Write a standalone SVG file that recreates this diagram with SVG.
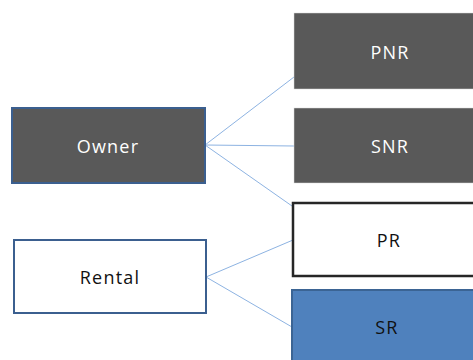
<svg xmlns="http://www.w3.org/2000/svg" width="473" height="360" viewBox="0 0 473 360">
  <style>
    .lbl { font-family: "Open Sans", "Liberation Sans", sans-serif; font-size: 18px; text-anchor: middle; dominant-baseline: central; letter-spacing: 1.2px; }
    .light { fill: #ffffff; }
    .dark { fill: #111111; }
    .conn { stroke: #8db3e2; stroke-width: 1; fill: none; }
  </style>
  <rect width="473" height="360" fill="#ffffff"/>
  <g id="connectors">
    <line class="conn" x1="205" y1="145" x2="294" y2="77"/>
    <line class="conn" x1="205" y1="145" x2="294" y2="146"/>
    <line class="conn" x1="205" y1="145" x2="292" y2="206"/>
    <line class="conn" x1="206" y1="277" x2="293" y2="240"/>
    <line class="conn" x1="206" y1="277" x2="292" y2="327"/>
  </g>
  <g id="owner">
    <rect x="12" y="108" width="193" height="75" fill="#595959" stroke="#3b5f8f" stroke-width="2"/>
    <text class="lbl light" x="108" y="146">Owner</text>
  </g>
  <g id="rental">
    <rect x="14" y="240" width="192" height="73" fill="#ffffff" stroke="#3b5f8f" stroke-width="2"/>
    <text class="lbl dark" x="110" y="277">Rental</text>
  </g>
  <g id="pnr">
    <rect x="294" y="13" width="185" height="76" fill="#595959" stroke="#d9d9d9" stroke-width="0.5"/>
    <text class="lbl light" x="390" y="52">PNR</text>
  </g>
  <g id="snr">
    <rect x="294" y="108" width="185" height="75" fill="#595959" stroke="#d9d9d9" stroke-width="0.5"/>
    <text class="lbl light" x="390" y="146">SNR</text>
  </g>
  <g id="pr">
    <rect x="293" y="203" width="186" height="73" fill="#ffffff" stroke="#262626" stroke-width="2.5"/>
    <text class="lbl dark" x="389" y="240">PR</text>
  </g>
  <g id="sr">
    <rect x="292" y="290" width="187" height="80" fill="#4f81bd" stroke="#3b6494" stroke-width="2"/>
    <text class="lbl dark" x="387" y="327">SR</text>
  </g>
</svg>
